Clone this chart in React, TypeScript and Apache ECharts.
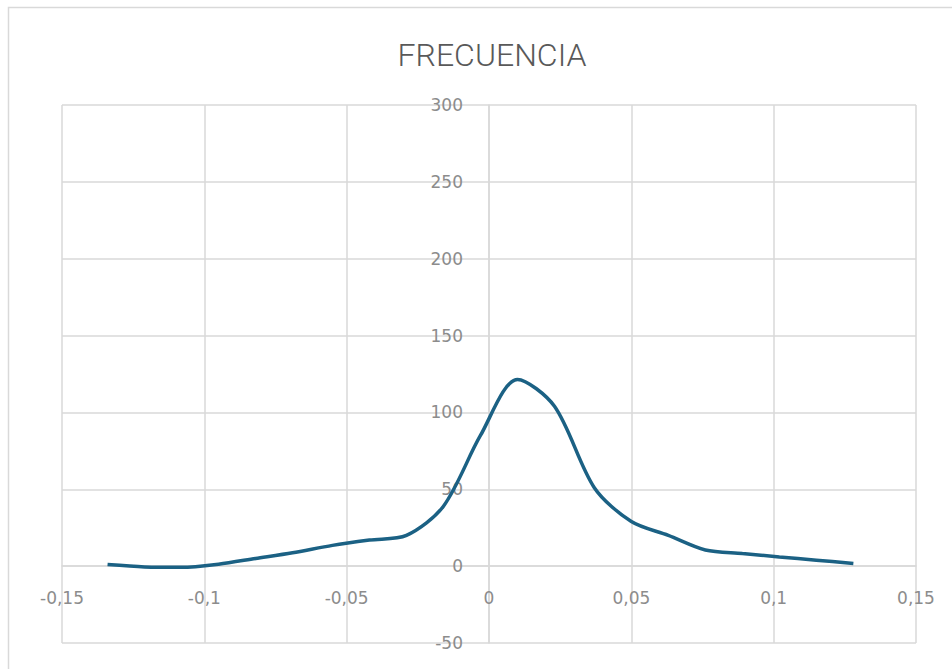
import React, { useEffect, useRef } from "react";
import * as echarts from "echarts";

const xValues = [
  -0.134, -0.121, -0.108, -0.095, -0.082, -0.069, -0.055, -0.042, -0.029, -0.016, -0.003,
  0.010, 0.023, 0.037, 0.050, 0.063, 0.076, 0.089, 0.102, 0.115, 0.128,
];
const frecuencia = [
  1, -0.5, -0.8, 1.3, 5, 8.7, 13.5, 17, 20, 39, 85,
  121.5, 104, 51, 29, 20, 10.5, 8.2, 6, 3.9, 1.7,
];
const chartTitle = "FRECUENCIA";

const W = 952;
const H = 669;

export default function App() {
  const ref = useRef<HTMLDivElement>(null);
  useEffect(() => {
    if (!ref.current) return;
    const chart = echarts.init(ref.current, undefined, { renderer: "svg", width: W, height: H });
    const fmt = (v: number) => {
      const r = Math.round(v * 100) / 100;
      return String(r).replace(".", ",");
    };
    const gridLeft = 62;
    const gridRight = 36;
    const gridTop = 105;
    const gridBottom = 26;
    const yMin = -50;
    const yMax = 300;
    const xMin = -0.15;
    const xMax = 0.15;
    const plotH = H - gridTop - gridBottom;
    const plotW = W - gridLeft - gridRight;
    const xAxisOffset = -((0 - yMin) / (yMax - yMin)) * plotH;
    const yAxisOffset = -((0 - xMin) / (xMax - xMin)) * plotW;
    chart.setOption({
      animation: false,
      backgroundColor: "#ffffff",
      title: {
        text: chartTitle,
        left: 487,
        top: 34,
        textAlign: "center",
        textStyle: {
          fontFamily: "Roboto",
          fontWeight: 300,
          fontSize: 32,
          color: "#595959",
        },
      },
      graphic: [
        {
          type: "rect",
          shape: { x: 8.5, y: 7.5, width: 980, height: 700 },
          style: { fill: "none", stroke: "#d9d9d9", lineWidth: 1.5 },
          silent: true,
        },
      ],
      grid: { left: gridLeft, right: gridRight, top: gridTop, bottom: gridBottom, containLabel: false },
      xAxis: {
        type: "value",
        min: xMin,
        max: xMax,
        interval: 0.05,
        position: "bottom",
        offset: xAxisOffset,
        axisLine: { onZero: false, lineStyle: { color: "#d9d9d9", width: 1.5 } },
        axisTick: { show: false },
        splitLine: { show: true, lineStyle: { color: "#d9d9d9", width: 1.5 } },
        axisLabel: {
          formatter: fmt,
          margin: 23,
          color: "#8c8c8c",
          fontFamily: "DejaVu Sans",
          fontSize: 17,
          showMinLabel: true,
          showMaxLabel: true,
        },
      },
      yAxis: {
        type: "value",
        min: yMin,
        max: yMax,
        interval: 50,
        position: "left",
        offset: yAxisOffset,
        axisLine: { show: true, onZero: false, lineStyle: { color: "#d9d9d9", width: 1.5 } },
        axisTick: { show: false },
        splitLine: { show: true, lineStyle: { color: "#d9d9d9", width: 1.5 } },
        axisLabel: {
          margin: 26,
          color: "#8c8c8c",
          fontFamily: "DejaVu Sans",
          fontSize: 17,
        },
      },
      series: [
        {
          type: "line",
          data: xValues.map((x, i) => [x, frecuencia[i]]),
          smooth: 0.3,
          showSymbol: false,
          lineStyle: { color: "#1b6184", width: 3.5 },
        },
      ],
    });
    return () => chart.dispose();
  }, []);
  return (
    <div
      ref={ref}
      style={{ position: "fixed", left: 0, top: 0, width: W, height: H, background: "#fff" }}
    />
  );
}
